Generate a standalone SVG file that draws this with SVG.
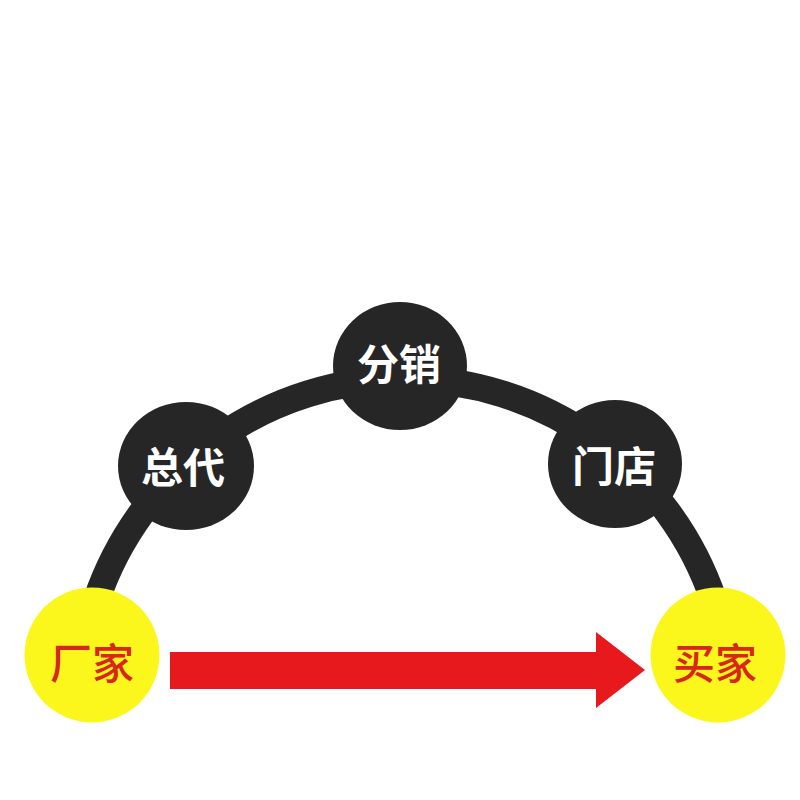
<svg xmlns="http://www.w3.org/2000/svg" width="800" height="800" viewBox="0 0 800 800">
<style>
.bk{fill:#262626}
.yl{fill:#fbf71c}
.wt{fill:#ffffff;font-family:"Noto Sans CJK SC","Noto Sans",sans-serif;font-weight:bold;font-size:42px;text-anchor:middle;dominant-baseline:central}
.rt{fill:#d8261a;font-family:"Noto Sans CJK SC","Noto Sans",sans-serif;font-weight:500;font-size:42px;text-anchor:middle;dominant-baseline:central}
</style>
<rect width="800" height="800" fill="#ffffff"/>
<g id="connectors">
<path d="M 96.4 600 A 326 326 0 0 1 713.6 600" fill="none" stroke="#262626" stroke-width="27"/>
<path id="arrow" d="M 170 652 L 596 652 L 596 632 L 645 670 L 596 708 L 596 689 L 170 689 Z" fill="#e8191c"/>
</g>
<g id="n-factory"><circle class="yl" cx="92" cy="655" r="67.5"/><text class="rt" x="92" y="660">厂家</text></g>
<g id="n-agent"><ellipse class="bk" cx="186" cy="466" rx="68" ry="64"/><text class="wt" x="183" y="464">总代</text></g>
<g id="n-distrib"><ellipse class="bk" cx="400" cy="366" rx="67" ry="64"/><text class="wt" x="399" y="361">分销</text></g>
<g id="n-store"><ellipse class="bk" cx="615" cy="464" rx="67" ry="64"/><text class="wt" x="614" y="463">门店</text></g>
<g id="n-buyer"><circle class="yl" cx="718" cy="655" r="67.5"/><text class="rt" x="715" y="660">买家</text></g>
</svg>
